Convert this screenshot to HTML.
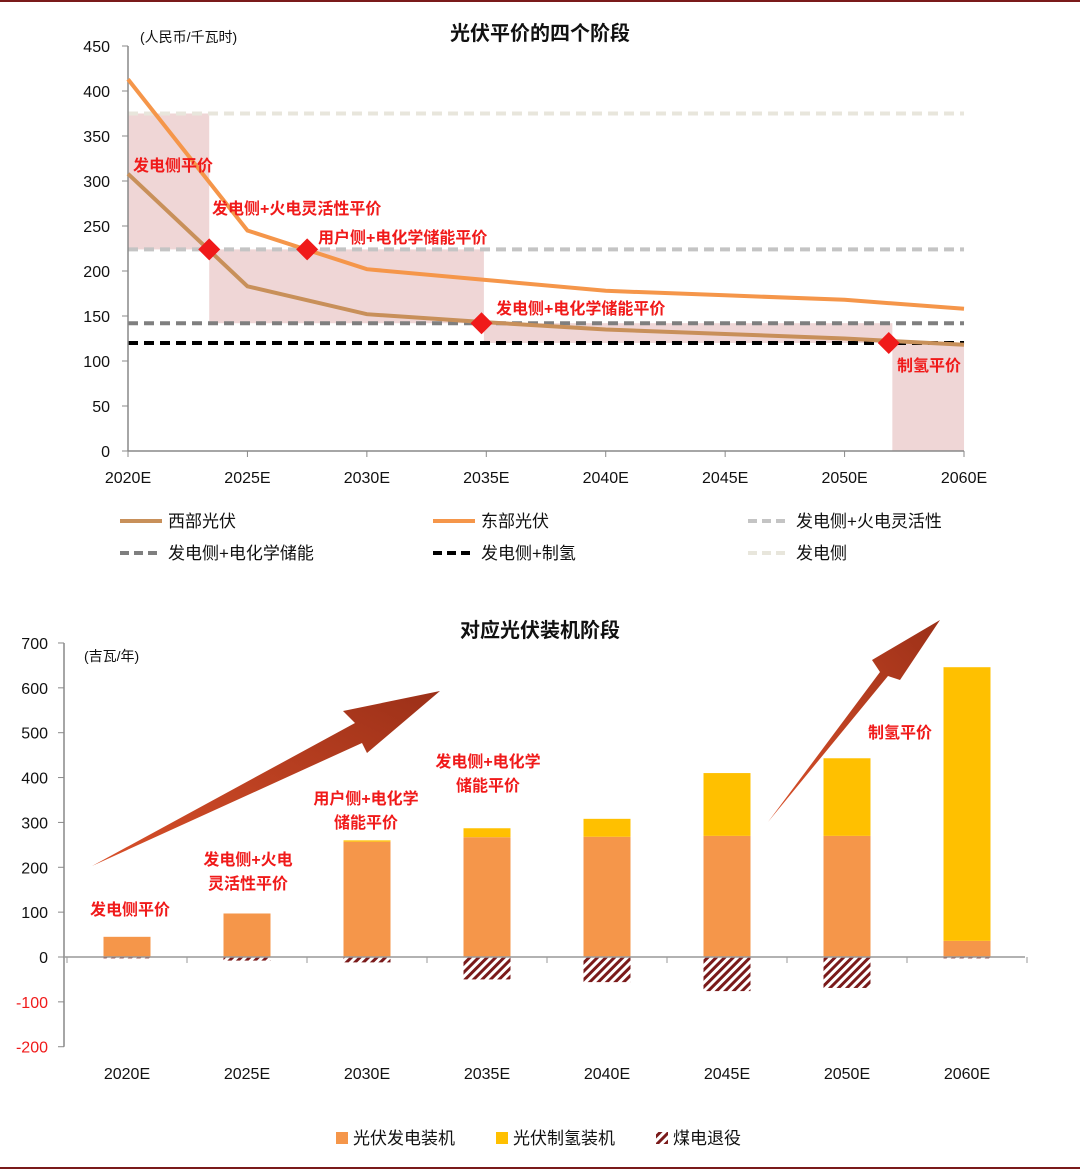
<!DOCTYPE html>
<html><head><meta charset="utf-8">
<style>
html,body{margin:0;padding:0;background:#fff;}
body{width:1080px;height:1170px;overflow:hidden;font-family:"Liberation Sans","Noto Sans CJK SC",sans-serif;}
svg text{font-family:"Liberation Sans","Noto Sans CJK SC",sans-serif;}
</style></head>
<body>
<svg id="c" width="1080" height="1170" viewBox="0 0 1080 1170" xmlns="http://www.w3.org/2000/svg">
<defs>
<pattern id="hatch" patternUnits="userSpaceOnUse" width="6" height="6" patternTransform="rotate(45)">
<rect width="6" height="6" fill="#fff"/><rect width="3" height="6" fill="#7a1a1a"/>
</pattern>
<linearGradient id="ag" x1="0" y1="1" x2="1" y2="0">
<stop offset="0" stop-color="#d9502a"/><stop offset="1" stop-color="#9c3018"/>
</linearGradient>
</defs>
<line x1="0" y1="1" x2="1080" y2="1" stroke="#7a1a1a" stroke-width="2"/>
<line x1="0" y1="1168" x2="1080" y2="1168" stroke="#7a1a1a" stroke-width="2"/>
<g id="top"></g>
<g id="bot"></g>
</svg>
<script>
// ---- Top chart data ----
const years = ["2020E","2025E","2030E","2035E","2040E","2045E","2050E","2060E"];
const westPV = [308,183,152,143,135,130,125,118];
const eastPV = [413,245,202,190,178,173,168,158];
const refLevels = [375,224,142,120];
const yTicksTop = [0,50,100,150,200,250,300,350,400,450];
// shaded stage boxes: [startX(category index), endX(category index), low, high]
const stages = [[0,0.68,224,375],[0.68,2.98,142,224],[2.98,6.4,120,142],[6.4,7,0,120]];
const diamonds = [[0.68,224],[1.5,224],[2.96,142],[6.37,120]];

// ---- Bottom chart data ----
const pvPower = [45,97,257,267,268,270,270,36];
const pvH2 = [0,0,3,20,40,140,173,610];
const coalRetire = [-3,-8,-12,-50,-56,-76,-69,-3];
const yTicksBot = [-200,-100,0,100,200,300,400,500,600,700];

const NS="http://www.w3.org/2000/svg";
function mk(parent,tag,attrs,txt){const e=document.createElementNS(NS,tag);for(const k in attrs)e.setAttribute(k,attrs[k]);if(txt!==undefined)e.textContent=txt;parent.appendChild(e);return e;}

// ---------- TOP ----------
const T=document.getElementById('top');
const tx0=128, tstep=119.43, ty0=451, tys=0.9;
const txs=i=>tx0+i*tstep, tyv=v=>ty0-v*tys;
let e;
e=mk(T,'text',{x:540,y:40,'text-anchor':'middle','font-size':20,'font-weight':'bold',fill:'#111'},'光伏平价的四个阶段');


e=mk(T,'text',{x:140,y:42,'font-size':14,fill:'#111'},'(人民币/千瓦时)');


stages.forEach((s,i)=>{
 e=mk(T,'rect',{x:txs(s[0]),y:tyv(s[3]),width:txs(s[1])-txs(s[0]),height:tyv(s[2])-tyv(s[3]),fill:'#e8c4c4','fill-opacity':0.7});
 
 
});
const refCols=['#e8e6dc','#c4c4c4','#7f7f7f','#000'];
const refNames=['ref-gen-side','ref-flex','ref-storage','ref-h2'];
refLevels.forEach((v,i)=>{
 e=mk(T,'line',{x1:tx0,x2:txs(7),y1:tyv(v),y2:tyv(v),stroke:refCols[i],'stroke-width':4,'stroke-dasharray':'10 6'});
 
 
});
e=mk(T,'line',{x1:tx0,x2:tx0,y1:tyv(450),y2:ty0,stroke:'#888','stroke-width':1.5});


e=mk(T,'line',{x1:tx0,x2:txs(7),y1:ty0,y2:ty0,stroke:'#888','stroke-width':1.5});


yTicksTop.forEach(v=>{
 mk(T,'line',{x1:tx0-6,x2:tx0,y1:tyv(v),y2:tyv(v),stroke:'#888'});
 e=mk(T,'text',{x:110,y:tyv(v)+6,'text-anchor':'end','font-size':16,fill:'#111'},String(v));
 
 
});
years.forEach((y,i)=>{
 mk(T,'line',{x1:txs(i),x2:txs(i),y1:ty0,y2:ty0+6,stroke:'#888'});
 e=mk(T,'text',{x:txs(i),y:483,'text-anchor':'middle','font-size':16,fill:'#111'},y);
 
 
});
function series(arr,col,name){
 const d=arr.map((v,i)=>(i?'L':'M')+txs(i)+' '+tyv(v)).join(' ');
 e=mk(T,'path',{d:d,fill:'none',stroke:col,'stroke-width':4});
 
 
}
series(westPV,'#c8905a','west-pv-line');
series(eastPV,'#f5964a','east-pv-line');
diamonds.forEach(d=>{
 const x=txs(d[0]),y=tyv(d[1]);
 e=mk(T,'polygon',{points:`${x},${y-11} ${x+11},${y} ${x},${y+11} ${x-11},${y}`,fill:'#f01a1a'});
 
 
});
const topLabels=[[133,171,'发电侧平价'],[212,214,'发电侧+火电灵活性平价'],[318,243,'用户侧+电化学储能平价'],[496,314,'发电侧+电化学储能平价'],[897,371,'制氢平价']];
topLabels.forEach(l=>{
 e=mk(T,'text',{x:l[0],y:l[1],'font-size':16,fill:'#f01a1a','font-weight':'bold'},l[2]);
 
 
});
const legTop=[[120,521,'#c8905a',false,'西部光伏'],[433,521,'#f5964a',false,'东部光伏'],[748,521,'#c4c4c4',true,'发电侧+火电灵活性'],[120,553,'#7f7f7f',true,'发电侧+电化学储能'],[433,553,'#000',true,'发电侧+制氢'],[748,553,'#e8e6dc',true,'发电侧']];
legTop.forEach(l=>{
 const g=mk(T,'g',{});
 
 
 const a={x1:l[0],x2:l[0]+42,y1:l[1],y2:l[1],stroke:l[2],'stroke-width':4};
 if(l[3])a['stroke-dasharray']='9 5';
 mk(g,'line',a);
 mk(g,'text',{x:l[0]+48,y:l[1]+6,'font-size':17,fill:'#111'},l[4]);
});

// ---------- BOTTOM ----------
const B=document.getElementById('bot');
const bx0=64, bstep=120, by0=957, bys=0.4486;
const bxc=i=>127+bstep*i, byv=v=>by0-v*bys, bw=47;
e=mk(B,'text',{x:540,y:637,'text-anchor':'middle','font-size':20,'font-weight':'bold',fill:'#111'},'对应光伏装机阶段');


e=mk(B,'text',{x:84,y:661,'font-size':14,fill:'#111'},'(吉瓦/年)');


e=mk(B,'line',{x1:bx0,x2:bx0,y1:byv(700),y2:byv(-200),stroke:'#888','stroke-width':1.5});


yTicksBot.forEach(v=>{
 mk(B,'line',{x1:bx0-6,x2:bx0,y1:byv(v),y2:byv(v),stroke:'#888'});
 e=mk(B,'text',{x:48,y:byv(v)+6,'text-anchor':'end','font-size':16,fill:v<0?'#f01a1a':'#111'},String(v));
 
 
});
years.forEach((y,i)=>{
 const c=bxc(i);
 let r=mk(B,'rect',{x:c-bw/2,y:byv(pvPower[i]),width:bw,height:pvPower[i]*bys,fill:'#f5964a'});
 
 
 if(pvH2[i]>0){
  r=mk(B,'rect',{x:c-bw/2,y:byv(pvPower[i]+pvH2[i]),width:bw,height:pvH2[i]*bys,fill:'#ffc000'});
  
  
 }
 r=mk(B,'rect',{x:c-bw/2,y:by0,width:bw,height:-coalRetire[i]*bys,fill:'url(#hatch)'});
 
 
 e=mk(B,'text',{x:c,y:1079,'text-anchor':'middle','font-size':16,fill:'#111'},y);
 
 
});
e=mk(B,'line',{x1:bx0,x2:1025,y1:by0,y2:by0,stroke:'#999','stroke-width':1.5});


for(let i=0;i<=8;i++)mk(B,'line',{x1:67+bstep*i,x2:67+bstep*i,y1:by0,y2:by0+6,stroke:'#999'});
e=mk(B,'polygon',{points:'92,866 355,723 343,711 440,691 367,753 362,743',fill:'url(#ag)'});


e=mk(B,'polygon',{points:'768,822 880,672 872,660 940,620 900,680 888,676',fill:'url(#ag)'});


const botLabels=[[130,915,'发电侧平价'],[248,865,'发电侧+火电'],[248,889,'灵活性平价'],[366,804,'用户侧+电化学'],[366,828,'储能平价'],[488,767,'发电侧+电化学'],[488,791,'储能平价'],[900,738,'制氢平价']];
botLabels.forEach(l=>{
 e=mk(B,'text',{x:l[0],y:l[1],'text-anchor':'middle','font-size':16,fill:'#f01a1a','font-weight':'bold'},l[2]);
 
 
});
const legBot=[[336,'#f5964a','光伏发电装机'],[496,'#ffc000','光伏制氢装机'],[656,'url(#hatch)','煤电退役']];
legBot.forEach(l=>{
 const g=mk(B,'g',{});
 
 
 mk(g,'rect',{x:l[0],y:1132,width:12,height:12,fill:l[1]});
 mk(g,'text',{x:l[0]+17,y:1144,'font-size':17,fill:'#111'},l[2]);
});
</script>
</body></html>
